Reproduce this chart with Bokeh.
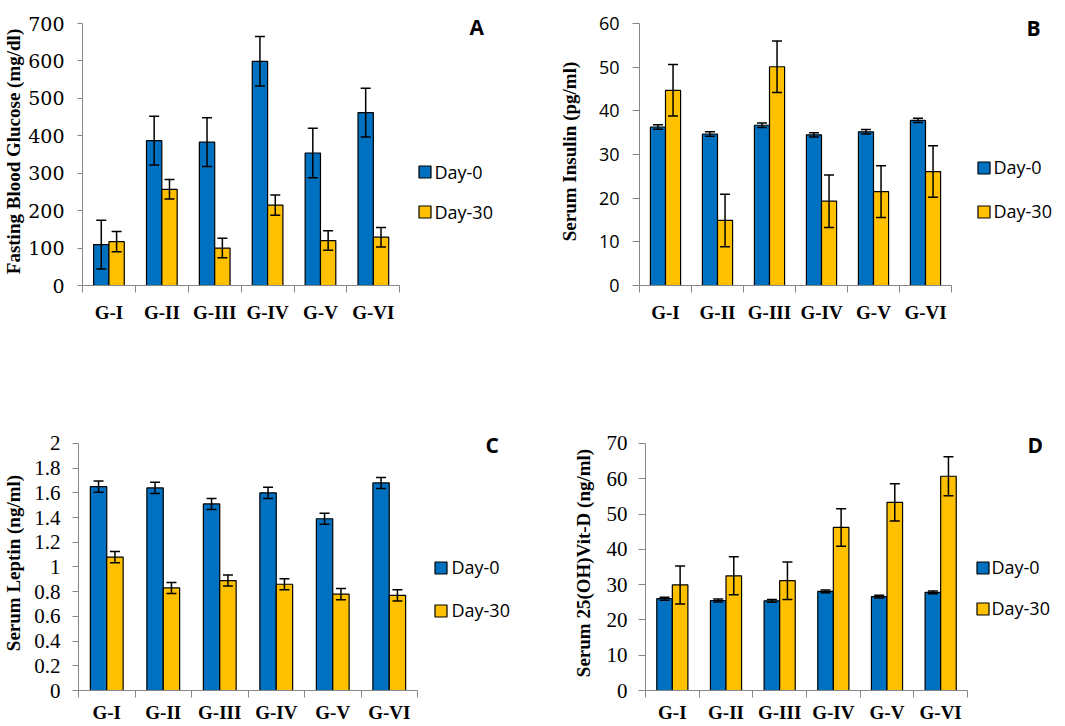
from bokeh.plotting import figure
from bokeh.models import (ColumnDataSource, Range1d, LinearAxis, FixedTicker, Legend,
                          LegendItem, Label)
from bokeh.transform import dodge
from bokeh.layouts import column, row
from bokeh.embed import file_html
from bokeh.resources import INLINE

# ---------------- data ----------------
groups = ["G-I", "G-II", "G-III", "G-IV", "G-V", "G-VI"]
series_names = ["Day-0", "Day-30"]

glucose_day0 = [109, 387, 383, 599, 354, 462]
glucose_day0_err = [65, 65, 65, 66, 66, 65]
glucose_day30 = [117, 257, 100, 215, 120, 129]
glucose_day30_err = [27, 26, 26, 27, 26, 26]
glucose_ticks = [0, 100, 200, 300, 400, 500, 600, 700]
glucose_tick_labels = ["0", "100", "200", "300", "400", "500", "600", "700"]

insulin_day0 = [36.3, 34.7, 36.7, 34.5, 35.2, 37.8]
insulin_day0_err = [0.5, 0.5, 0.5, 0.5, 0.5, 0.5]
insulin_day30 = [44.7, 14.9, 50.1, 19.3, 21.5, 26.1]
insulin_day30_err = [5.9, 6.0, 5.9, 6.0, 5.9, 5.9]
insulin_ticks = [0, 10, 20, 30, 40, 50, 60]
insulin_tick_labels = ["0", "10", "20", "30", "40", "50", "60"]

leptin_day0 = [1.65, 1.64, 1.51, 1.60, 1.39, 1.68]
leptin_day0_err = [0.045, 0.045, 0.045, 0.045, 0.045, 0.045]
leptin_day30 = [1.08, 0.83, 0.89, 0.86, 0.78, 0.77]
leptin_day30_err = [0.045, 0.045, 0.045, 0.045, 0.045, 0.045]
leptin_ticks = [0, 0.2, 0.4, 0.6, 0.8, 1, 1.2, 1.4, 1.6, 1.8, 2]
leptin_tick_labels = ["0", "0.2", "0.4", "0.6", "0.8", "1", "1.2", "1.4", "1.6", "1.8", "2"]

vitd_day0 = [26.0, 25.5, 25.4, 28.1, 26.6, 27.8]
vitd_day0_err = [0.4, 0.4, 0.4, 0.4, 0.4, 0.4]
vitd_day30 = [29.9, 32.5, 31.1, 46.2, 53.3, 60.7]
vitd_day30_err = [5.4, 5.4, 5.3, 5.3, 5.3, 5.5]
vitd_ticks = [0, 10, 20, 30, 40, 50, 60, 70]
vitd_tick_labels = ["0", "10", "20", "30", "40", "50", "60", "70"]

# ---------------- style ----------------
BLUE = "#0070C0"
YELLOW = "#FFC000"
AXIS = "#868686"
BAR_W = 0.29
OFF = 0.145
LEG_ITEM_H = 24

# category slots: group i occupies [i, i+1]; label at its centre, tick marks at slot edges
centers = [i + 0.5 for i in range(len(groups))]
edges = [i for i in range(len(groups) + 1)]


def make_panel(letter, ylabel, day0, err0, day30, err30, yticks, ytick_labels,
               fig_w, fig_h, left, top, data_w, bottom, data_top,
               tick_font, tick_size, tick_len, tick_standoff, title_standoff, cat_standoff,
               leg_x, leg_c30, leg_dist, leg_standoff, letter_pos):
    frame_w = fig_w - left
    frame_h = bottom - top
    x_end = edges[-1] * frame_w / data_w
    y_end = yticks[-1] * frame_h / (bottom - data_top)
    p = figure(width=fig_w, height=fig_h,
               x_range=Range1d(edges[0], x_end),
               y_range=Range1d(yticks[0], y_end),
               x_axis_location=None, y_axis_location=None,
               toolbar_location=None, output_backend="svg",
               min_border_left=left, min_border_top=top,
               min_border_right=0, min_border_bottom=fig_h - bottom)
    p.grid.visible = False
    p.outline_line_color = None
    p.background_fill_color = "white"
    p.border_fill_color = "white"

    yaxis = LinearAxis(ticker=FixedTicker(ticks=yticks),
                       bounds=(yticks[0], yticks[-1]),
                       major_label_overrides=dict(zip(yticks, ytick_labels)),
                       axis_label=ylabel,
                       axis_label_text_font="Liberation Serif",
                       axis_label_text_font_style="bold",
                       axis_label_text_font_size="19px",
                       axis_label_text_color="black",
                       axis_label_standoff=title_standoff,
                       major_label_text_font=tick_font,
                       major_label_text_font_size=tick_size,
                       major_label_text_color="black",
                       major_label_standoff=tick_standoff,
                       major_tick_out=tick_len, major_tick_in=0,
                       minor_tick_out=0, minor_tick_in=0,
                       axis_line_color=AXIS, major_tick_line_color=AXIS)
    p.add_layout(yaxis, "left")

    xaxis = LinearAxis(ticker=FixedTicker(ticks=centers, minor_ticks=edges),
                       bounds=(edges[0], edges[-1]),
                       major_label_overrides=dict(zip(centers, groups)),
                       major_tick_out=0, major_tick_in=0,
                       minor_tick_out=7, minor_tick_in=0,
                       major_label_standoff=cat_standoff,
                       major_label_text_font="Liberation Serif",
                       major_label_text_font_style="bold",
                       major_label_text_font_size="19px",
                       major_label_text_color="black",
                       axis_line_color=AXIS, major_tick_line_color=None,
                       minor_tick_line_color=AXIS)
    p.add_layout(xaxis, "below")

    src = ColumnDataSource(dict(
        x=centers, group=groups, day0=day0, day30=day30,
        lo0=[v - e for v, e in zip(day0, err0)], hi0=[v + e for v, e in zip(day0, err0)],
        lo30=[v - e for v, e in zip(day30, err30)], hi30=[v + e for v, e in zip(day30, err30)],
    ))

    x0 = dodge("x", -OFF)
    x30 = dodge("x", OFF)
    r0 = p.vbar(x=x0, top="day0", bottom=0, width=BAR_W, source=src,
                fill_color=BLUE, line_color="black", line_width=1.2)
    r30 = p.vbar(x=x30, top="day30", bottom=0, width=BAR_W, source=src,
                 fill_color=YELLOW, line_color="black", line_width=1.2)

    for xx, lo, hi in ((x0, "lo0", "hi0"), (x30, "lo30", "hi30")):
        p.segment(x0=xx, y0=lo, x1=xx, y1=hi, source=src, line_color="black", line_width=1.5)
        p.scatter(x=xx, y=hi, marker="dash", size=10, source=src,
                  line_color="black", line_width=1.5)
        p.scatter(x=xx, y=lo, marker="dash", size=10, source=src,
                  line_color="black", line_width=1.5)

    legend = Legend(items=[LegendItem(label=series_names[0], renderers=[r0]),
                           LegendItem(label=series_names[1], renderers=[r30])],
                    location=(leg_x, leg_c30 - LEG_ITEM_H / 2), orientation="vertical",
                    glyph_width=15, glyph_height=15, label_standoff=leg_standoff,
                    label_height=15,
                    spacing=int(round(leg_dist - LEG_ITEM_H)), padding=0, margin=0,
                    border_line_color=None, background_fill_alpha=0,
                    label_text_font="Open Sans", label_text_font_size="18px",
                    label_text_color="black")
    p.add_layout(legend)

    p.add_layout(Label(x=letter_pos[0], y=letter_pos[1], x_units="screen", y_units="screen",
                       text=letter, text_font="Open Sans", text_font_style="bold",
                       text_font_size="21px", text_color="black",
                       text_align="left", text_baseline="alphabetic"))
    return p


pA = make_panel("A", "Fasting Blood Glucose (mg/dl)",
                glucose_day0, glucose_day0_err, glucose_day30, glucose_day30_err,
                glucose_ticks, glucose_tick_labels,
                530, 355, 81, 17, 318, 285, 23,
                "DejaVu Serif", "19px", 5, 13, 1, 9,
                334.5, 73.5, 40, 3, (387, 259))
pB = make_panel("B", "Serum Insulin (pg/ml)",
                insulin_day0, insulin_day0_err, insulin_day30, insulin_day30_err,
                insulin_ticks, insulin_tick_labels,
                534, 355, 109, 17, 312, 285, 23,
                "Open Sans", "18px", 7, 13, 16, 9,
                336.5, 74, 43.5, 3, (387, 258))
pC = make_panel("C", "Serum Leptin (ng/ml)",
                leptin_day0, leptin_day0_err, leptin_day30, leptin_day30_err,
                leptin_ticks, leptin_tick_labels,
                530, 370, 74, 80, 342, 338, 88,
                "Liberation Serif", "21px", 6, 12, 7, 4,
                354.5, 80, 43, 4, (407, 246))
pD = make_panel("D", "Serum 25(OH)Vit-D (ng/ml)",
                vitd_day0, vitd_day0_err, vitd_day30, vitd_day30_err,
                vitd_ticks, vitd_tick_labels,
                534, 370, 115, 80, 322, 338, 88,
                "Liberation Serif", "21px", 7, 11, 10, 4,
                329.5, 82, 41, 2, (382, 246))

layout = column(row(pA, pB), row(pC, pD))
open("out.html", "w").write(file_html(layout, INLINE))
